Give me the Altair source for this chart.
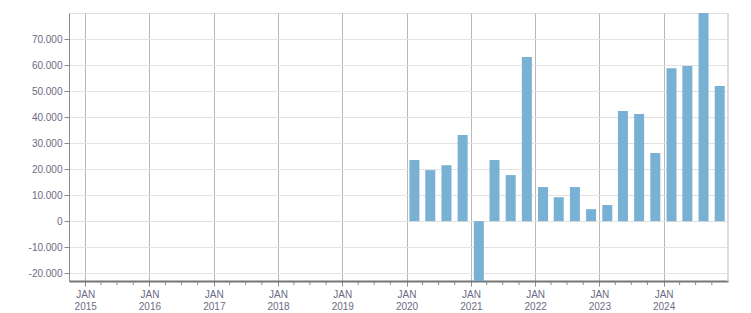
import altair as alt
import pandas as pd

# Quarterly values (mid-quarter dates)
quarters = [
    "2020-02-15", "2020-05-15", "2020-08-15", "2020-11-15",
    "2021-02-15", "2021-05-15", "2021-08-15", "2021-11-15",
    "2022-02-15", "2022-05-15", "2022-08-15", "2022-11-15",
    "2023-02-15", "2023-05-15", "2023-08-15", "2023-11-15",
    "2024-02-15", "2024-05-15", "2024-08-15", "2024-11-15",
]
values = [
    23500, 19600, 21500, 33100,
    -23000, 23500, 17700, 63100,
    13100, 9200, 13100, 4600,
    6200, 42300, 41200, 26200,
    58800, 59600, 80000, 51900,
]
years = list(range(2015, 2025))
y_ticks = [-20000, -10000, 0, 10000, 20000, 30000, 40000, 50000, 60000, 70000]

# minor quarterly tick positions (non-January quarter starts)
minor_dates = [f"{y}-{m:02d}-01" for y in years for m in (4, 7, 10)]

df = pd.DataFrame({"date": quarters, "value": values})
minor_df = pd.DataFrame({"date": minor_dates})

W, H = 659, 268
x_domain = ["2014-10-01", "2025-01-01"]
label_color = "#6b6b85"
font = "Liberation Sans"

x_scale = alt.Scale(type="utc", domain=x_domain, padding=0)
y_scale = alt.Scale(domain=[-23000, 80000], nice=False, zero=False)

bars = alt.Chart(df).mark_bar(color="#78b1d3", size=10, clip=True).encode(
    x=alt.X("date:T", scale=x_scale, title=None,
            axis=alt.Axis(
                values=[alt.DateTime(year=y, month=1, date=1, utc=True) for y in years],
                labelExpr="['JAN', utcFormat(datum.value, '%Y')]",
                grid=True, gridColor="#b8b8b8", gridWidth=1,
                domainColor="#777777", domainWidth=2,
                tickColor="#888888", tickSize=5, tickWidth=1,
                labelColor=label_color, labelFont=font, labelFontSize=10,
                labelLineHeight=12, labelPadding=3, labelBaseline="top",
                labelAlign="center", labelFlush=False,
            )),
    y=alt.Y("value:Q", scale=y_scale, title=None,
            axis=alt.Axis(
                values=y_ticks,
                labelExpr="(datum.value < 0 ? '-' : '') + replace(format(abs(datum.value), ',d'), ',', '.')",
                grid=True, gridColor="#e2e2e2", gridWidth=1,
                domainColor="#8a8a8a", domainWidth=1,
                tickColor="#8a8a8a", tickSize=5,
                labelColor=label_color, labelFont=font, labelFontSize=10,
                labelPadding=2,
            )),
)

minor = alt.Chart(minor_df).mark_rule(color="#888888", strokeWidth=1).encode(
    x=alt.X("date:T", scale=x_scale),
    y=alt.value(H + 1),
    y2=alt.value(H + 4),
)

right_border = alt.Chart(minor_df).mark_rule(color="#dddddd", strokeWidth=1).encode(
    x=alt.value(W),
    y=alt.value(0),
    y2=alt.value(H),
)

chart = alt.layer(right_border, bars, minor).properties(
    width=W, height=H,
    autosize=alt.AutoSizeParams(type="none"),
    padding={"left": 69, "top": 13, "right": 22, "bottom": 32},
).configure_view(stroke="transparent", strokeWidth=0).configure(background="white")

chart.save("out.html", embed_options={"renderer": "svg", "actions": False})
